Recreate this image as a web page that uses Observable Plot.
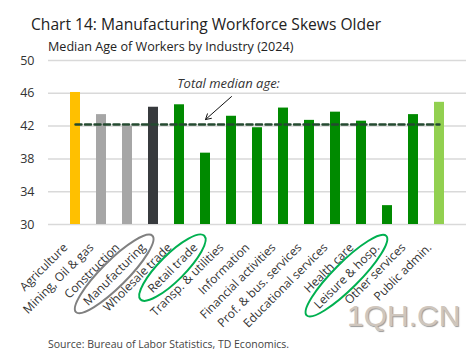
<!DOCTYPE html>
<html><head><meta charset="utf-8">
<script src="https://cdn.jsdelivr.net/npm/d3@7"></script>
<script src="https://cdn.jsdelivr.net/npm/@observablehq/plot@0.6"></script>
<style>
body{margin:0;background:#fff;font-family:"Open Sans",sans-serif;}
#wrap{position:relative;width:471px;height:356px;overflow:hidden;background:#fff;}
#title{position:absolute;left:31px;top:13px;font-size:15.6px;color:#222;line-height:22px;white-space:nowrap;}
#subtitle{position:absolute;left:48px;top:38px;font-size:12.6px;color:#222;line-height:17px;white-space:nowrap;}
#chart{position:absolute;left:0;top:54px;}
#source{position:absolute;left:48px;top:337px;font-size:10.5px;color:#444;line-height:14px;white-space:nowrap;}
#wm{position:absolute;left:347px;top:299px;font-size:30px;font-family:"Liberation Sans",sans-serif;color:#cfc6bd;line-height:34px;text-shadow:1px 1px 1px #999;white-space:nowrap;}
</style></head>
<body>
<div id="wrap">
  <div id="title">Chart 14: Manufacturing Workforce Skews Older</div>
  <div id="subtitle">Median Age of Workers by Industry (2024)</div>
  <div id="chart"></div>
  <div id="source">Source: Bureau of Labor Statistics, TD Economics.</div>
  <div id="wm">1QH.CN</div>
</div>
<script>
// ---- data ----
const categories = ["Agriculture","Mining, Oil & gas","Construction","Manufacturing","Wholesale trade","Retail trade","Transp. & utilities","Information","Financial activities","Prof. & bus. services","Educational services","Health care","Leisure & hosp.","Other services","Public admin."];
const medianAges = [46.1,43.4,42.0,44.3,44.6,38.7,43.2,41.8,44.2,42.7,43.7,42.6,32.3,43.4,44.9];
const groups = ["Agriculture","Goods","Goods","Manufacturing","Services","Services","Services","Services","Services","Services","Services","Services","Services","Services","Public"];
const yTicks = [30,34,38,42,46,50];
const totalMedianAge = 42.2;
const annotationLabel = "Total median age:";
const circled = [
  {category:"Manufacturing", ring:"gray"},
  {category:"Retail trade", ring:"green"},
  {category:"Leisure & hosp.", ring:"green"}
];

// ---- styles ----
const groupDomain = ["Agriculture","Goods","Manufacturing","Services","Public"];
const groupColors = ["#FFC000","#A6A6A6","#373A3D","#008A00","#92D050"];
const ringColors = {gray:"#808080", green:"#00B050"};

const data = categories.map((c,i)=>({category:c, age:medianAges[i], group:groups[i]}));
const lineData = [
  {category:categories[0], v:totalMedianAge},
  {category:categories[categories.length-1], v:totalMedianAge}
];

const chart = Plot.plot({
  width:471, height:280,
  marginTop:6, marginBottom:110, marginLeft:48, marginRight:5,
  style:{fontFamily:"'Open Sans', sans-serif", fontSize:"11px", color:"#333", background:"transparent", overflow:"visible"},
  x:{domain:categories, padding:0.62},
  y:{domain:[yTicks[0], yTicks[yTicks.length-1]]},
  color:{domain:groupDomain, range:groupColors},
  marks:[
    Plot.gridY(yTicks,{stroke:"#D9D9D9", strokeOpacity:1, strokeWidth:1.5}),
    Plot.barY(data,{x:"category", y1:yTicks[0], y2:"age", fill:"group"}),
    Plot.line(lineData,{x:"category", y:"v", stroke:"#244A30", strokeWidth:2.5, strokeDasharray:"6,3.5"}),
    Plot.text([{category:"Transp. & utilities", v:47.1}],{x:"category", y:"v", text:()=>annotationLabel, fontStyle:"italic", fontSize:13, fill:"#333", dx:-3}),
    Plot.arrow([{a:"Transp. & utilities", b:"Retail trade"}],{x1:"a", y1:()=>45.6, x2:"b", y2:()=>42.8, stroke:"#111", strokeWidth:1, headLength:9}),
    Plot.axisY(yTicks,{tickSize:0, tickPadding:14, label:null, fontSize:12.5, fill:"#333"}),
    Plot.axisX({tickSize:0, tickPadding:4, tickRotate:-45, label:null, fontSize:12, fill:"#333", dx:-10, dy:17})
  ]
});
document.getElementById("chart").appendChild(chart);

// circle the highlighted category labels, using the rendered tick labels
const svgRect = chart.getBoundingClientRect();
const labels = chart.querySelectorAll('g[aria-label="x-axis tick label"] text');
circled.forEach(({category, ring})=>{
  const t = Array.from(labels).find(el=>el.textContent===category);
  if(!t) return;
  const r = t.getBoundingClientRect();
  const cx = r.left - svgRect.left + r.width/2;
  const cy = r.top - svgRect.top + r.height/2;
  const len = t.getComputedTextLength();
  const e = document.createElementNS("http://www.w3.org/2000/svg","ellipse");
  e.setAttribute("cx",cx); e.setAttribute("cy",cy);
  e.setAttribute("rx",len/2+13); e.setAttribute("ry",13);
  e.setAttribute("transform",`rotate(-45 ${cx} ${cy})`);
  e.setAttribute("fill","none"); e.setAttribute("stroke",ringColors[ring]); e.setAttribute("stroke-width",2);
  chart.appendChild(e);
});
</script>
</body></html>
